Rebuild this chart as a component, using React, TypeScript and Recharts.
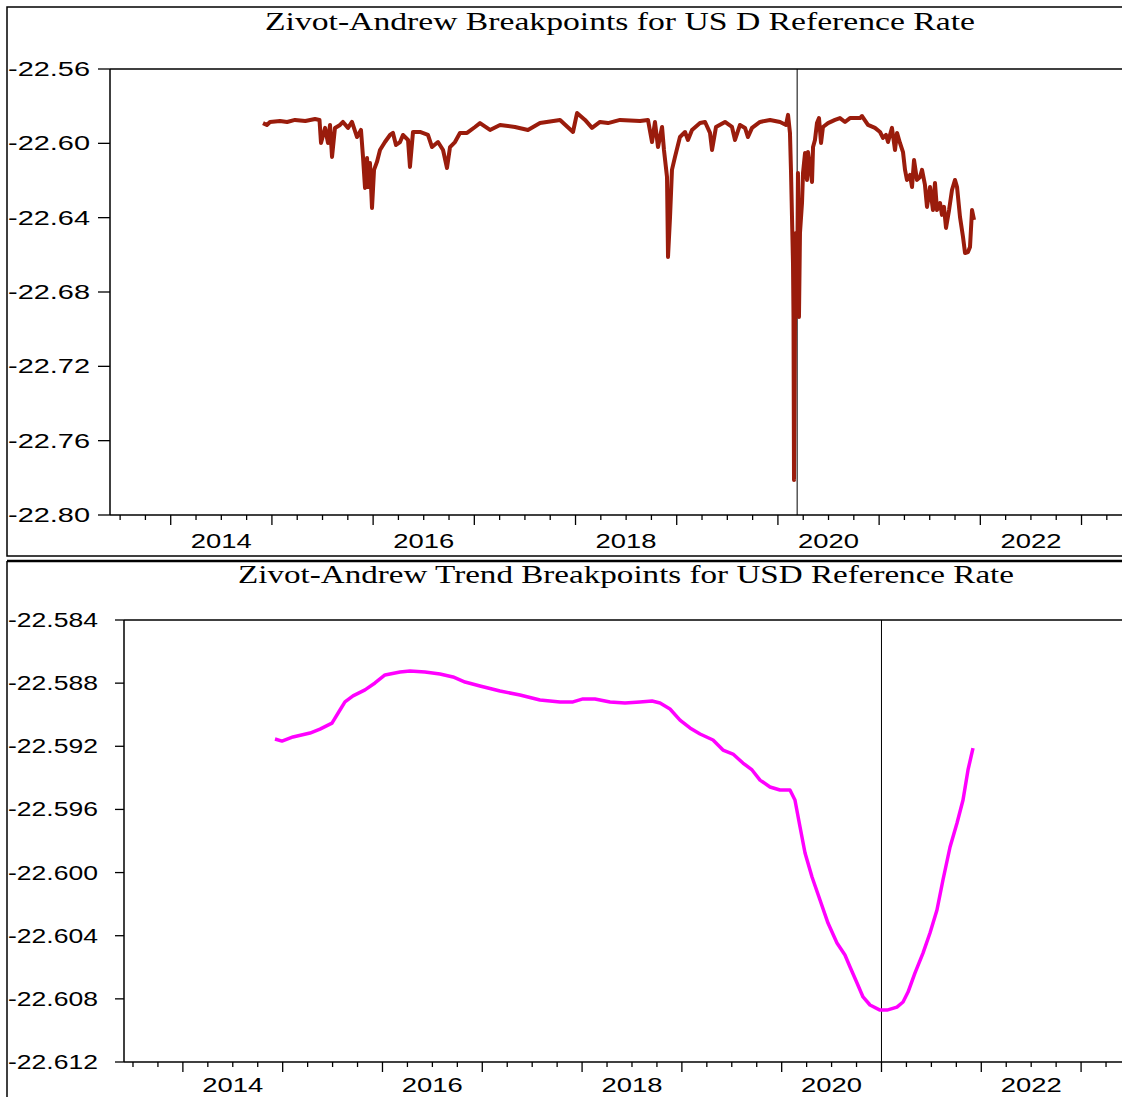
import { Line, LineChart, ReferenceLine, XAxis, YAxis } from "recharts";

// Zivot-Andrews level breakpoint series (decimal year, value)
const levelSeries2014_15: [number, number][] = [
  [2014.912, -22.5891], [2014.95, -22.5901], [2014.981, -22.5885], [2015.08, -22.588],
  [2015.15, -22.5885], [2015.228, -22.5874], [2015.33, -22.588], [2015.426, -22.5869],
  [2015.47, -22.5874], [2015.485, -22.5998], [2015.525, -22.5917], [2015.554, -22.5998],
  [2015.574, -22.5901], [2015.594, -22.6073], [2015.623, -22.5917], [2015.673, -22.5901],
  [2015.702, -22.5885], [2015.752, -22.5917], [2015.791, -22.5885], [2015.841, -22.5966],
  [2015.88, -22.5928], [2015.9, -22.6073], [2015.92, -22.624], [2015.94, -22.6079],
  [2015.949, -22.6235], [2015.969, -22.6106], [2015.989, -22.6348],
];

const levelSeries2016_17: [number, number][] = [
  [2016.009, -22.6143], [2016.038, -22.61], [2016.068, -22.6036], [2016.117, -22.5993],
  [2016.167, -22.5955], [2016.196, -22.5944], [2016.226, -22.6009], [2016.266, -22.5993],
  [2016.295, -22.5955], [2016.345, -22.5982], [2016.364, -22.6127], [2016.394, -22.5939],
  [2016.463, -22.5939], [2016.542, -22.5955], [2016.582, -22.602], [2016.641, -22.5993],
  [2016.691, -22.6036], [2016.73, -22.6133], [2016.76, -22.602], [2016.809, -22.5993],
  [2016.858, -22.5944], [2016.928, -22.5944], [2017.007, -22.5912], [2017.056, -22.5891],
  [2017.155, -22.5928], [2017.254, -22.5901], [2017.402, -22.5912], [2017.53, -22.5928],
  [2017.649, -22.5891], [2017.847, -22.5874], [2017.975, -22.5939],
];

const levelSeries2018_19: [number, number][] = [
  [2018.015, -22.5837], [2018.094, -22.5874], [2018.163, -22.5917], [2018.242, -22.5885],
  [2018.321, -22.5891], [2018.44, -22.5874], [2018.637, -22.588], [2018.716, -22.5874],
  [2018.756, -22.5993], [2018.785, -22.5885], [2018.815, -22.602], [2018.855, -22.5912],
  [2018.874, -22.6036], [2018.904, -22.6181], [2018.914, -22.6611], [2018.934, -22.6396],
  [2018.953, -22.6143], [2018.983, -22.6073], [2019.032, -22.5966], [2019.082, -22.5939],
  [2019.111, -22.5982], [2019.151, -22.5928], [2019.23, -22.5891], [2019.28, -22.5885],
  [2019.329, -22.5944], [2019.349, -22.6036], [2019.388, -22.5912], [2019.477, -22.5885],
  [2019.546, -22.5912], [2019.576, -22.5982], [2019.625, -22.5901], [2019.675, -22.5917],
  [2019.704, -22.5966], [2019.744, -22.5917], [2019.823, -22.5885], [2019.922, -22.5874],
];

const levelSeries2020_21: [number, number][] = [
  [2020.021, -22.5885], [2020.08, -22.5901], [2020.1, -22.5847], [2020.119, -22.5944],
  [2020.129, -22.6143], [2020.149, -22.6644], [2020.154, -22.6934], [2020.159, -22.7811],
  [2020.169, -22.6934], [2020.179, -22.6482], [2020.189, -22.688], [2020.198, -22.616],
  [2020.208, -22.6934], [2020.218, -22.6482], [2020.238, -22.6321], [2020.248, -22.616],
  [2020.268, -22.6052], [2020.287, -22.6197], [2020.297, -22.6047], [2020.317, -22.6127],
  [2020.337, -22.6208], [2020.347, -22.602], [2020.366, -22.5982], [2020.386, -22.5891],
  [2020.406, -22.5864], [2020.426, -22.5998], [2020.445, -22.5912], [2020.495, -22.5891],
  [2020.564, -22.5874], [2020.613, -22.5864], [2020.663, -22.5885], [2020.712, -22.5864],
  [2020.811, -22.5864], [2020.831, -22.5853], [2020.89, -22.5901], [2020.959, -22.5917],
  [2021.009, -22.5939], [2021.038, -22.5971], [2021.068, -22.5955], [2021.088, -22.5993],
  [2021.127, -22.5917], [2021.157, -22.6036], [2021.177, -22.5944], [2021.206, -22.5998],
  [2021.236, -22.6047], [2021.256, -22.6143], [2021.275, -22.6197], [2021.305, -22.617],
  [2021.325, -22.6235], [2021.345, -22.609], [2021.374, -22.6197], [2021.404, -22.6181],
  [2021.424, -22.6143], [2021.453, -22.6224], [2021.473, -22.6342], [2021.503, -22.6235],
  [2021.532, -22.6359], [2021.552, -22.6213], [2021.572, -22.6359], [2021.602, -22.6321],
  [2021.621, -22.6385], [2021.641, -22.6342], [2021.661, -22.6455], [2021.691, -22.6359],
  [2021.72, -22.6251], [2021.75, -22.6197], [2021.77, -22.6235], [2021.799, -22.6396],
  [2021.829, -22.6504], [2021.849, -22.659], [2021.878, -22.6585], [2021.898, -22.6558],
  [2021.918, -22.6359], [2021.938, -22.6412],
];

// Zivot-Andrews trend breakpoint series
const trendSeries2014_17: [number, number][] = [
  [2014.923, -22.59154], [2014.993, -22.59167], [2015.103, -22.59141], [2015.274, -22.59116],
  [2015.374, -22.59091], [2015.494, -22.59053], [2015.574, -22.5897], [2015.624, -22.58919],
  [2015.705, -22.58881], [2015.825, -22.58843], [2015.925, -22.58799], [2016.025, -22.58748],
  [2016.176, -22.58729], [2016.276, -22.58723], [2016.426, -22.58729], [2016.576, -22.58742],
  [2016.707, -22.58761], [2016.827, -22.58793], [2016.977, -22.58818], [2017.178, -22.5885],
  [2017.378, -22.58875], [2017.578, -22.58907], [2017.779, -22.58919], [2017.909, -22.58919],
];

const trendSeries2018_19: [number, number][] = [
  [2018.009, -22.589], [2018.129, -22.589], [2018.28, -22.58919], [2018.43, -22.58926],
  [2018.58, -22.58919], [2018.701, -22.58913], [2018.781, -22.58926], [2018.881, -22.58964],
  [2018.981, -22.59034], [2019.081, -22.59084], [2019.182, -22.59122], [2019.312, -22.5916],
  [2019.412, -22.59224], [2019.512, -22.59249], [2019.612, -22.59306], [2019.703, -22.5935],
  [2019.783, -22.59414], [2019.883, -22.59458], [2019.983, -22.59477],
];

const trendSeries2020_21: [number, number][] = [
  [2020.083, -22.59477], [2020.133, -22.5954], [2020.184, -22.59711], [2020.234, -22.59876],
  [2020.304, -22.60028], [2020.384, -22.60174], [2020.464, -22.6032], [2020.554, -22.60446],
  [2020.634, -22.60522], [2020.685, -22.60598], [2020.755, -22.607], [2020.815, -22.60788],
  [2020.885, -22.60839], [2020.985, -22.60871], [2021.055, -22.60871], [2021.155, -22.60852],
  [2021.216, -22.6082], [2021.266, -22.60757], [2021.336, -22.60636], [2021.416, -22.6051],
  [2021.486, -22.60383], [2021.556, -22.60237], [2021.616, -22.60047], [2021.687, -22.59838],
  [2021.757, -22.59686], [2021.817, -22.5954], [2021.867, -22.5935], [2021.917, -22.59211],
];

const levelTicks = [-22.56, -22.6, -22.64, -22.68, -22.72, -22.76, -22.8];
const trendTicks = [-22.584, -22.588, -22.592, -22.596, -22.6, -22.604, -22.608, -22.612];
const yearLabels = [2014, 2016, 2018, 2020, 2022];
const levelBreak = 2020.19;
const trendBreak = 2021.0;

const toRows = (...parts: [number, number][][]) => parts.flat().map(([t, v]) => ({ t, v }));

const quarterTicks: number[] = [];
for (let q = 2013.5; q < 2023.4; q += 0.25) quarterTicks.push(Math.round(q * 100) / 100);

const Y_AXIS_W = 40;
const X_AXIS_H = 30;

interface PanelProps {
  top: number;
  height: number;
  plotLeft: number;
  plotTop: number;
  plotBottom: number;
  labelOffset: number;
  domainX: [number, number];
  ticksY: number[];
  digits: number;
  yLabelWidth: number;
  yTickLen: number;
  data: { t: number; v: number }[];
  color: string;
  strokeWidth: number;
  breakAt: number;
}

function Panel(p: PanelProps) {
  const width = 1122;
  const yMin = p.ticksY[p.ticksY.length - 1];
  const yMax = p.ticksY[0];

  const renderYTick = (props: any) => {
    const { y, payload } = props;
    return (
      <g>
        <line x1={p.plotLeft - p.yTickLen} x2={p.plotLeft} y1={y} y2={y} stroke="#000" strokeWidth={1.3} />
        <text
          x={8}
          y={y + 7}
          fontFamily="'Liberation Sans', Arial, sans-serif"
          fontSize={20}
          fill="#000"
          textLength={p.yLabelWidth}
          lengthAdjust="spacingAndGlyphs"
        >
          {Number(payload.value).toFixed(p.digits)}
        </text>
      </g>
    );
  };

  const renderXTick = (props: any) => {
    const { x, payload } = props;
    const v = Number(payload.value);
    const major = Math.abs(v - Math.round(v)) < 1e-6;
    const len = major ? 10 : 5;
    const label = yearLabels.find((yr) => Math.abs(yr + 0.5 - v) < 1e-6);
    return (
      <g>
        <line x1={x} x2={x} y1={p.plotBottom} y2={p.plotBottom + len} stroke="#000" strokeWidth={1.3} />
        {label !== undefined && (
          <text
            x={x}
            y={p.plotBottom + p.labelOffset}
            textAnchor="middle"
            fontFamily="'Liberation Sans', Arial, sans-serif"
            fontSize={20}
            fill="#000"
            textLength={61}
            lengthAdjust="spacingAndGlyphs"
          >
            {label}
          </text>
        )}
      </g>
    );
  };

  return (
    <div style={{ position: "absolute", left: 0, top: p.top, width, height: p.height }}>
      <LineChart
        width={width}
        height={p.height}
        margin={{
          top: p.plotTop,
          right: 0,
          bottom: p.height - p.plotBottom - X_AXIS_H,
          left: p.plotLeft - Y_AXIS_W,
        }}
      >
        <XAxis
          dataKey="t"
          type="number"
          domain={p.domainX}
          ticks={quarterTicks}
          interval={0}
          allowDataOverflow
          height={X_AXIS_H}
          tickLine={false}
          axisLine={{ stroke: "#000", strokeWidth: 1.5 }}
          tick={renderXTick}
        />
        <YAxis
          type="number"
          domain={[yMin, yMax]}
          ticks={p.ticksY}
          interval={0}
          allowDataOverflow
          width={Y_AXIS_W}
          tickLine={false}
          axisLine={{ stroke: "#000", strokeWidth: 1.5 }}
          tick={renderYTick}
        />
        <ReferenceLine y={yMax} stroke="#000" strokeWidth={1.5} />
        <ReferenceLine x={p.breakAt} stroke="#000" strokeWidth={1} />
        <Line
          data={p.data}
          dataKey="v"
          type="linear"
          stroke={p.color}
          strokeWidth={p.strokeWidth}
          strokeLinejoin="round"
          dot={false}
          isAnimationActive={false}
        />
      </LineChart>
    </div>
  );
}

export default function App() {
  const levelData = toRows(levelSeries2014_15, levelSeries2016_17, levelSeries2018_19, levelSeries2020_21);
  const trendData = toRows(trendSeries2014_17, trendSeries2018_19, trendSeries2020_21);

  return (
    <div style={{ position: "absolute", left: 0, top: 0, width: 1122, height: 1097, overflow: "hidden", background: "#fff" }}>
      <Panel
        top={0}
        height={556}
        plotLeft={110}
        plotTop={69}
        plotBottom={515}
        labelOffset={33}
        domainX={[2013.4, 2023.4]}
        ticksY={levelTicks}
        digits={2}
        yLabelWidth={82}
        yTickLen={12}
        data={levelData}
        color="#9a1c0c"
        strokeWidth={4}
        breakAt={levelBreak}
      />
      <Panel
        top={560}
        height={537}
        plotLeft={124}
        plotTop={60}
        plotBottom={502}
        labelOffset={30}
        domainX={[2013.41, 2023.41]}
        ticksY={trendTicks}
        digits={3}
        yLabelWidth={90}
        yTickLen={9}
        data={trendData}
        color="#ff00ff"
        strokeWidth={3.5}
        breakAt={trendBreak}
      />
      <svg width={1122} height={1097} style={{ position: "absolute", left: 0, top: 0, pointerEvents: "none" }}>
        <rect x={7} y={7} width={1130} height={549} fill="none" stroke="#000" strokeWidth={1.5} />
        <line x1={7} x2={1122} y1={561} y2={561} stroke="#000" strokeWidth={2.5} />
        <line x1={7} x2={7} y1={561} y2={1097} stroke="#000" strokeWidth={1.5} />
        <text
          x={265}
          y={30}
          fontFamily="'Liberation Serif', 'Times New Roman', serif"
          fontSize={25}
          fill="#000"
          textLength={710}
          lengthAdjust="spacingAndGlyphs"
        >
          Zivot-Andrew Breakpoints for US D Reference Rate
        </text>
        <text
          x={238}
          y={583}
          fontFamily="'Liberation Serif', 'Times New Roman', serif"
          fontSize={25}
          fill="#000"
          textLength={776}
          lengthAdjust="spacingAndGlyphs"
        >
          Zivot-Andrew Trend Breakpoints for USD Reference Rate
        </text>
      </svg>
    </div>
  );
}
